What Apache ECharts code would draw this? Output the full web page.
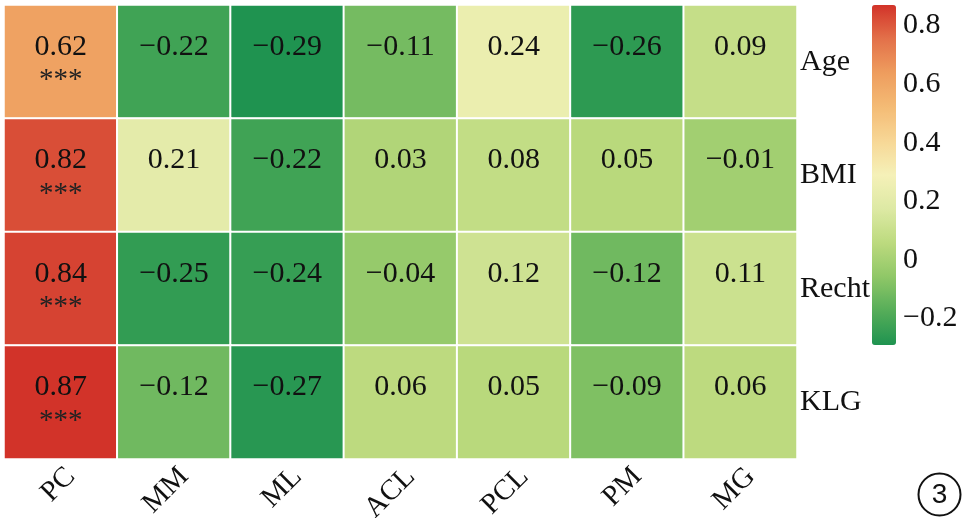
<!DOCTYPE html>
<html>
<head>
<meta charset="utf-8">
<script src="https://cdn.jsdelivr.net/npm/echarts@6/dist/echarts.min.js"></script>
<style>html,body{margin:0;padding:0;background:#fff;}#c{width:969px;height:518px;}</style>
</head>
<body>
<div id="c"></div>
<script>
const columns = ['PC', 'MM', 'ML', 'ACL', 'PCL', 'PM', 'MG'];
const rows = ['Age', 'BMI', 'Recht', 'KLG'];
const ageValues   = [0.62, -0.22, -0.29, -0.11, 0.24, -0.26, 0.09];
const bmiValues   = [0.82, 0.21, -0.22, 0.03, 0.08, 0.05, -0.01];
const rechtValues = [0.84, -0.25, -0.24, -0.04, 0.12, -0.12, 0.11];
const klgValues   = [0.87, -0.12, -0.27, 0.06, 0.05, -0.09, 0.06];
const ageStars   = ['***', '', '', '', '', '', ''];
const bmiStars   = ['***', '', '', '', '', '', ''];
const rechtStars = ['***', '', '', '', '', '', ''];
const klgStars   = ['***', '', '', '', '', '', ''];
const colorbarTicks = [-0.2, 0, 0.2, 0.4, 0.6, 0.8];
const colorMin = -0.29, colorMax = 0.87;

const rowValues = [ageValues, bmiValues, rechtValues, klgValues];
const rowStars = [ageStars, bmiStars, rechtStars, klgStars];
const data = [];
rowValues.forEach((vals, r) => vals.forEach((v, c) => data.push({value: [c, r, v], stars: rowStars[r][c]})));

const fmt = v => (v < 0 ? '\u2212' : '') + Math.abs(v).toFixed(2);
const fmtTick = v => (v < 0 ? '\u2212' : '') + String(Math.abs(v));
const serif = '"Liberation Serif", "Times New Roman", serif';

const chart = echarts.init(document.getElementById('c'));
chart.setOption({
  animation: false,
  backgroundColor: '#fff',
  grid: [
    {left: 4, top: 5, width: 793, height: 454, outerBoundsMode: 'none', containLabel: false},
    {left: 872, top: 5, width: 24, height: 340, outerBoundsMode: 'none', containLabel: false}
  ],
  xAxis: [
    {type: 'category', data: columns, gridIndex: 0, position: 'bottom',
     axisLine: {show: false}, axisTick: {show: false}, splitLine: {show: false},
     axisLabel: {rotate: 45, margin: 3, verticalAlign: 'top', fontFamily: serif, fontSize: 29, color: '#111'}},
    {type: 'value', gridIndex: 1, show: false, min: 0, max: 1}
  ],
  yAxis: [
    {type: 'category', data: rows, gridIndex: 0, inverse: true, position: 'right',
     axisLine: {show: false}, axisTick: {show: false}, splitLine: {show: false},
     axisLabel: {margin: 3, fontFamily: serif, fontSize: 30, color: '#111'}},
    {type: 'value', gridIndex: 1, min: colorMin, max: colorMax, position: 'right',
     axisLine: {show: false}, axisTick: {show: false}, splitLine: {show: false},
     axisLabel: {customValues: colorbarTicks, margin: 7, fontFamily: serif, fontSize: 30, color: '#111',
                 formatter: fmtTick}}
  ],
  visualMap: {
    type: 'continuous', min: colorMin, max: colorMax, seriesIndex: 0,
    calculable: false, orient: 'vertical', left: 867, top: 0, padding: 5,
    itemWidth: 24, itemHeight: 340, text: null, showLabel: false,
    inRange: {color: ['#1f9350', '#55ad59', '#8fc767', '#bcda7e', '#dde9a4', '#f5f1b8',
                      '#f7d796', '#f4bb75', '#ee9d5e', '#e3714a', '#d23329']}
  },
  series: [{
    type: 'heatmap', xAxisIndex: 0, yAxisIndex: 0, data: data,
    itemStyle: {borderColor: '#fff', borderWidth: 2},
    label: {
      show: true,
      formatter: p => '{v|' + fmt(p.value[2]) + '}\n{s|' + (p.data.stars || ' ') + '}',
      rich: {
        v: {fontFamily: serif, fontSize: 30, color: '#111', lineHeight: 32},
        s: {fontFamily: serif, fontSize: 29, color: '#222', lineHeight: 30, padding: [6, 0, 0, 0]}
      }
    },
    emphasis: {disabled: true}
  }],
  graphic: [{
    type: 'group', left: 916, top: 471,
    children: [
      {type: 'circle', shape: {cx: 22, cy: 22, r: 21}, style: {fill: 'none', stroke: '#111', lineWidth: 2}},
      {type: 'text', x: 22, y: 23, style: {text: '3', fontFamily: '"Liberation Sans", Arial, sans-serif', fontSize: 28,
        fill: '#111', align: 'center', verticalAlign: 'middle'}}
    ]
  }]
});
</script>
</body>
</html>
